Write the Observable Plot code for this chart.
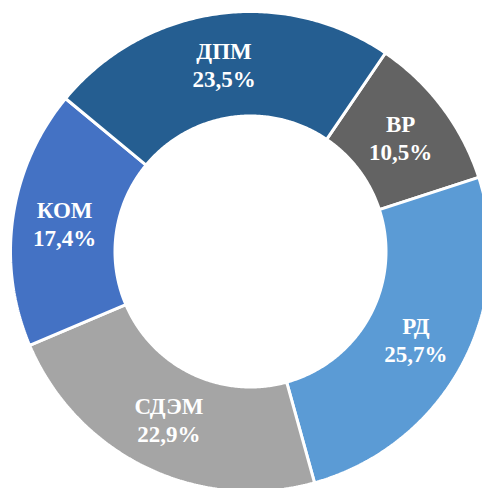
<!DOCTYPE html>
<html>
<head>
<meta charset="utf-8">
<script src="https://cdn.jsdelivr.net/npm/d3@7"></script>
<script src="https://cdn.jsdelivr.net/npm/@observablehq/plot@0.6"></script>
<style>
  html, body { margin: 0; padding: 0; background: #fff; }
  #chart svg { display: block; }
</style>
</head>
<body>
<div id="chart"></div>
<script>
// Data (clockwise from the first slice)
const categories = ["ВР", "РД", "СДЭМ", "КОМ", "ДПМ"];
const shares = [10.5, 25.7, 22.9, 17.4, 23.5];
const colors = ["#636363", "#5B9BD5", "#A5A5A5", "#4472C4", "#255E91"];

// Layout / style
const W = 482, H = 488;
const cx = 250, cy = 251, R = 240;
const innerRatio = 135.5 / 240;
const startAngle = 34.2 * Math.PI / 180;

const pie = d3.pie().sort(null).value(d => d.value)
  .startAngle(startAngle).endAngle(startAngle + 2 * Math.PI);
const slices = pie(categories.map((c, i) => ({ name: c, value: shares[i], color: colors[i] })));

// polygon outline of each ring sector (unit coordinates, angle clockwise from 12 o'clock)
const outline = [];
for (const s of slices) {
  const n = Math.max(8, Math.ceil((s.endAngle - s.startAngle) / 0.01));
  const pts = [];
  for (let k = 0; k <= n; k++) {
    const a = s.startAngle + (s.endAngle - s.startAngle) * k / n;
    pts.push([Math.sin(a), Math.cos(a)]);
  }
  for (let k = n; k >= 0; k--) {
    const a = s.startAngle + (s.endAngle - s.startAngle) * k / n;
    pts.push([innerRatio * Math.sin(a), innerRatio * Math.cos(a)]);
  }
  pts.push(pts[0]);
  pts.forEach(([x, y]) => outline.push({ name: s.data.name, color: s.data.color, x, y }));
}

const labels = slices.map(s => {
  const a = (s.startAngle + s.endAngle) / 2;
  const r = (1 + innerRatio) / 2;
  return {
    name: s.data.name,
    pct: s.data.value.toFixed(1).replace(".", ",") + "%",
    x: r * Math.sin(a),
    y: r * Math.cos(a)
  };
});

const font = "Liberation Serif";

const chart = Plot.plot({
  width: W,
  height: H,
  margin: 0,
  style: { background: "#fff", overflow: "hidden", fontFamily: font },
  x: { domain: [-1, 1], range: [cx - R, cx + R], axis: null },
  y: { domain: [-1, 1], range: [cy + R, cy - R], axis: null },
  marks: [
    Plot.line(outline, {
      x: "x", y: "y", z: "name",
      fill: "color", stroke: "white", strokeWidth: 3,
      strokeLinejoin: "miter", curve: "linear"
    }),
    Plot.text(labels, {
      x: "x", y: "y", text: "name", dy: -14,
      fill: "white", fontSize: 23, fontWeight: "bold", fontFamily: font
    }),
    Plot.text(labels, {
      x: "x", y: "y", text: "pct", dy: 14,
      fill: "white", fontSize: 23, fontWeight: "bold", fontFamily: font
    })
  ]
});
document.getElementById("chart").appendChild(chart);
</script>
</body>
</html>
